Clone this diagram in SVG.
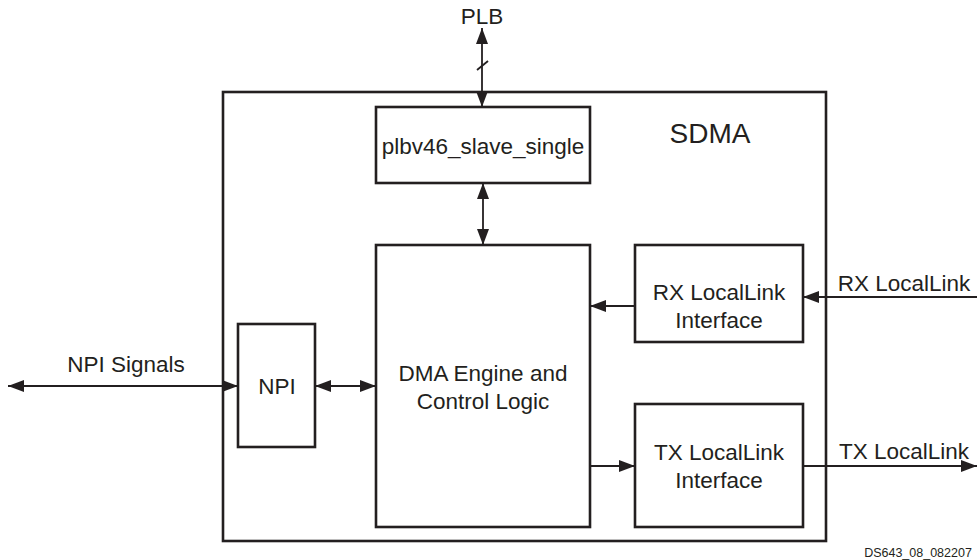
<svg xmlns="http://www.w3.org/2000/svg" width="977" height="560" viewBox="0 0 977 560">
<style>
.box{fill:#fff;stroke:#231f20;stroke-width:2.6}
.t{font-family:"Liberation Sans",Arial,sans-serif;font-size:22.5px;fill:#231f20;text-anchor:middle}
.c{stroke:#231f20;stroke-width:1.8;fill:none}
</style>
<defs>
<marker id="ah" markerUnits="userSpaceOnUse" markerWidth="17" markerHeight="13" refX="16" refY="6" orient="auto-start-reverse" viewBox="0 0 17 12">
<path d="M0,0 L16,6 L0,12 z" fill="#231f20"/>
</marker>
</defs>
<rect width="977" height="560" fill="#fff"/>
<g id="sdma">
<rect class="box" x="223" y="92" width="603" height="449"/>
<text class="t" x="710" y="143" style="font-size:28px">SDMA</text>
</g>
<g id="plbv46">
<rect class="box" x="376" y="107" width="214" height="76"/>
<text class="t" x="483" y="154">plbv46_slave_single</text>
</g>
<g id="dma">
<rect class="box" x="376" y="245" width="214" height="282"/>
<text class="t" x="483" y="381">DMA Engine and</text>
<text class="t" x="483" y="409">Control Logic</text>
</g>
<g id="rx">
<rect class="box" x="635" y="245" width="168" height="97"/>
<text class="t" x="719" y="300">RX LocalLink</text>
<text class="t" x="719" y="328">Interface</text>
</g>
<g id="tx">
<rect class="box" x="635" y="404" width="168" height="123"/>
<text class="t" x="719" y="460">TX LocalLink</text>
<text class="t" x="719" y="488">Interface</text>
</g>
<g id="npi">
<rect class="box" x="238" y="324" width="77" height="123"/>
<text class="t" x="277" y="394">NPI</text>
</g>
<g id="connectors">
<line class="c" x1="482" y1="28" x2="482" y2="107" marker-start="url(#ah)" marker-end="url(#ah)"/>
<line class="c" x1="477" y1="70" x2="488" y2="61"/>
<line class="c" x1="483" y1="183" x2="483" y2="245" marker-start="url(#ah)" marker-end="url(#ah)"/>
<line class="c" x1="8" y1="386" x2="238" y2="386" marker-start="url(#ah)" marker-end="url(#ah)"/>
<line class="c" x1="315" y1="386" x2="376" y2="386" marker-start="url(#ah)" marker-end="url(#ah)"/>
<line class="c" x1="977" y1="297" x2="803" y2="297" marker-end="url(#ah)"/>
<line class="c" x1="635" y1="306" x2="590" y2="306" marker-end="url(#ah)"/>
<line class="c" x1="590" y1="466" x2="635" y2="466" marker-end="url(#ah)"/>
<line class="c" x1="803" y1="466" x2="977" y2="466" marker-end="url(#ah)"/>
</g>
<g id="labels">
<text class="t" x="482" y="24">PLB</text>
<text class="t" x="126" y="372">NPI Signals</text>
<text class="t" x="904" y="291">RX LocalLink</text>
<text class="t" x="904" y="459">TX LocalLink</text>
<text class="t" x="918" y="557" style="font-size:12.5px">DS643_08_082207</text>
</g>
</svg>
